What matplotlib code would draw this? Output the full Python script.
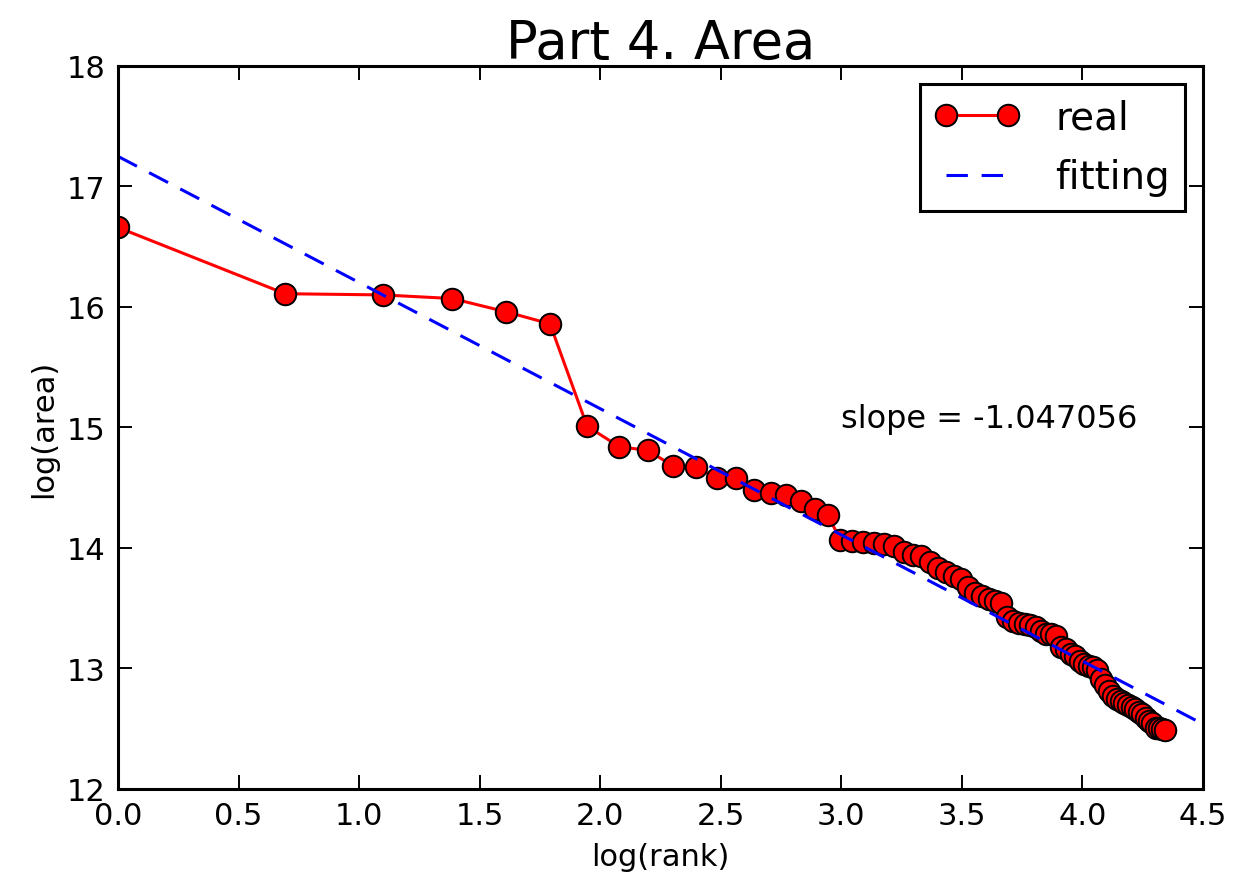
import numpy as np
import matplotlib
matplotlib.use("Agg")
import matplotlib.pyplot as plt

# rank of each region (1 = largest) and log of its area
ranks = list(range(1, 78))
log_area = [
    16.66, 16.11, 16.10, 16.07, 15.96, 15.86, 15.01, 14.84, 14.81, 14.68,
    14.67, 14.58, 14.58, 14.48, 14.46, 14.44, 14.39, 14.32, 14.27, 14.07,
    14.06, 14.05, 14.04, 14.03, 14.02, 13.97, 13.94, 13.93, 13.88, 13.83,
    13.80, 13.77, 13.74, 13.68, 13.63, 13.60, 13.58, 13.56, 13.54, 13.43,
    13.39, 13.38, 13.37, 13.36, 13.34, 13.31, 13.29, 13.29, 13.27, 13.18,
    13.16, 13.12, 13.10, 13.06, 13.04, 13.02, 13.01, 12.99, 12.91, 12.86,
    12.81, 12.77, 12.75, 12.73, 12.71, 12.70, 12.68, 12.66, 12.64, 12.62,
    12.59, 12.56, 12.55, 12.51, 12.51, 12.50, 12.49,
]

# fitted line
slope = -1.047056
intercept = 17.25
fit_x = [0.0, 4.5]

log_rank = np.log(ranks)

fig = plt.figure(figsize=(12.47, 8.87), dpi=100)
ax = fig.add_axes([0.0946, 0.1094, 0.8701, 0.8151])

ax.plot(log_rank, log_area, color="red", linewidth=2.2, marker="o", markersize=15.5,
        markerfacecolor="red", markeredgecolor="black", markeredgewidth=1.4, label="real")
fit_y = [intercept + slope * x for x in fit_x]
ax.plot(fit_x, fit_y, color="blue", linewidth=2.2, linestyle="--", dashes=(7, 4.5), label="fitting")

ax.text(3.0, 15.0, "slope = %f" % slope, fontsize=23)

ax.set_xlim(0, 4.5)
ax.set_ylim(12, 18)
ax.set_xticks(np.arange(0, 4.51, 0.5))
ax.set_yticks(range(12, 19))
ax.set_xticklabels(["%.1f" % t for t in np.arange(0, 4.51, 0.5)])
ax.tick_params(direction="in", length=10, width=1.4, top=True, right=True,
               labelsize=22, pad=9)
for s in ax.spines.values():
    s.set_linewidth(2.2)

ax.set_xlabel("log(rank)", fontsize=22, labelpad=8)
ax.set_ylabel("log(area)", fontsize=22, labelpad=6)
ax.set_title("Part 4. Area", fontsize=38, pad=6)

leg = ax.legend(loc="upper right", fontsize=28, numpoints=2, fancybox=False,
                borderpad=0.38, handlelength=2.2, labelspacing=0.55,
                handletextpad=0.9, borderaxespad=0,
                bbox_to_anchor=(0.983, 0.975))
leg.get_frame().set_edgecolor("black")
leg.get_frame().set_linewidth(2.2)
leg.get_frame().set_alpha(1)

fig.savefig("out.png", dpi=100)
